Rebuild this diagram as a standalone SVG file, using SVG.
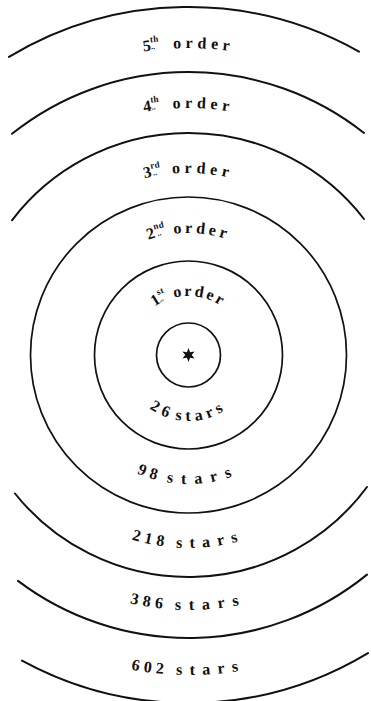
<svg xmlns="http://www.w3.org/2000/svg" width="371" height="701" viewBox="0 0 371 701">
<style>
.ring{fill:none;stroke:#111;stroke-width:1.7;stroke-linecap:round}
.arc{fill:none;stroke:#111;stroke-width:2;stroke-linecap:round}
.lbl{font-family:"Liberation Serif","Times New Roman",serif;font-size:16px;font-weight:bold;fill:#111}
.sup{font-size:9px}
.dots{font-size:8px}
</style>
<defs>
<path id="t5" d="M -118.5 355 A 307 307 0 0 1 495.5 355"/>
<path id="t4" d="M -58.5 355 A 247 247 0 0 1 435.5 355"/>
<path id="t3" d="M 6.5 355 A 182 182 0 0 1 370.5 355"/>
<path id="t2" d="M 66.5 355 A 122 122 0 0 1 310.5 355"/>
<path id="t1" d="M 129.5 355 A 59 59 0 0 1 247.5 355"/>
<path id="b1" d="M 122.5 355 A 66 66 0 0 0 254.5 355"/>
<path id="b2" d="M 59.5 355 A 129 129 0 0 0 317.5 355"/>
<path id="b3" d="M -4.5 355 A 193 193 0 0 0 381.5 355"/>
<path id="b4" d="M -66.5 355 A 255 255 0 0 0 443.5 355"/>
<path id="b5" d="M -131.5 355 A 320 320 0 0 0 508.5 355"/>
</defs>
<g id="rings">
<circle id="sun-ring" class="ring" cx="188.5" cy="355" r="32"/>
<circle id="ring1" class="ring" cx="188.5" cy="355" r="94"/>
<circle id="ring2" class="ring" cx="188.5" cy="355" r="158"/>
<path id="ring3-top" class="arc" d="M 12 220.3 A 222 222 0 0 1 364 219"/>
<path id="ring3-bottom" class="arc" d="M 15 493.5 A 222 222 0 0 0 367 487"/>
<path id="ring4-top" class="arc" d="M 12 133.8 A 283 283 0 0 1 364 133"/>
<path id="ring4-bottom" class="arc" d="M 18 580.9 A 283 283 0 0 0 367 574.6"/>
<path id="ring5-top" class="arc" d="M 9 56.9 A 348 348 0 0 1 359 51.6"/>
<path id="ring5-bottom" class="arc" d="M 22 660.6 A 348 348 0 0 0 368 653.1"/>
</g>
<g id="star">
<polygon fill="#111" points="188.5,348 190.1,352.23 194.56,351.5 191.7,355 194.56,358.5 190.1,357.77 188.5,362 186.9,357.77 182.44,358.5 185.3,355 182.44,351.5 186.9,352.23"/>
</g>
<g id="order5"><text class="lbl"><textPath href="#t5" startOffset="50%" text-anchor="middle">5<tspan class="sup" dy="-8">th</tspan><tspan class="dots" dx="-8" dy="7">..</tspan><tspan dx="18" dy="1" letter-spacing="4.5">order</tspan></textPath></text></g>
<g id="order4"><text class="lbl"><textPath href="#t4" startOffset="50%" text-anchor="middle">4<tspan class="sup" dy="-8">th</tspan><tspan class="dots" dx="-8" dy="7">..</tspan><tspan dx="17" dy="1" letter-spacing="4.5">order</tspan></textPath></text></g>
<g id="order3"><text class="lbl"><textPath href="#t3" startOffset="50%" text-anchor="middle">3<tspan class="sup" dy="-8">rd</tspan><tspan class="dots" dx="-8" dy="7">..</tspan><tspan dx="15" dy="1" letter-spacing="4.5">order</tspan></textPath></text></g>
<g id="order2"><text class="lbl"><textPath href="#t2" startOffset="50%" text-anchor="middle">2<tspan class="sup" dy="-8">nd</tspan><tspan class="dots" dx="-8" dy="7">..</tspan><tspan dx="12" dy="1" letter-spacing="3.5">order</tspan></textPath></text></g>
<g id="order1"><text class="lbl"><textPath href="#t1" startOffset="50%" text-anchor="middle">1<tspan class="sup" dy="-8">st</tspan><tspan class="dots" dx="-7" dy="7">..</tspan><tspan dx="10" dy="1" letter-spacing="2.5">order</tspan></textPath></text></g>
<g id="stars26"><text class="lbl"><textPath href="#b1" startOffset="50%" text-anchor="middle"><tspan letter-spacing="4.5">26</tspan><tspan dx="3" letter-spacing="4.5">stars</tspan></textPath></text></g>
<g id="stars98"><text class="lbl"><textPath href="#b2" startOffset="50%" text-anchor="middle"><tspan letter-spacing="4.5">98</tspan><tspan dx="6" letter-spacing="8.5">stars</tspan></textPath></text></g>
<g id="stars218"><text class="lbl"><textPath href="#b3" startOffset="50%" text-anchor="middle"><tspan letter-spacing="4.5">218</tspan><tspan dx="8" letter-spacing="7.5">stars</tspan></textPath></text></g>
<g id="stars386"><text class="lbl"><textPath href="#b4" startOffset="50%" text-anchor="middle"><tspan letter-spacing="4.5">386</tspan><tspan dx="8" letter-spacing="8">stars</tspan></textPath></text></g>
<g id="stars602"><text class="lbl"><textPath href="#b5" startOffset="50%" text-anchor="middle"><tspan letter-spacing="4.5">602</tspan><tspan dx="8" letter-spacing="7.5">stars</tspan></textPath></text></g>
</svg>
